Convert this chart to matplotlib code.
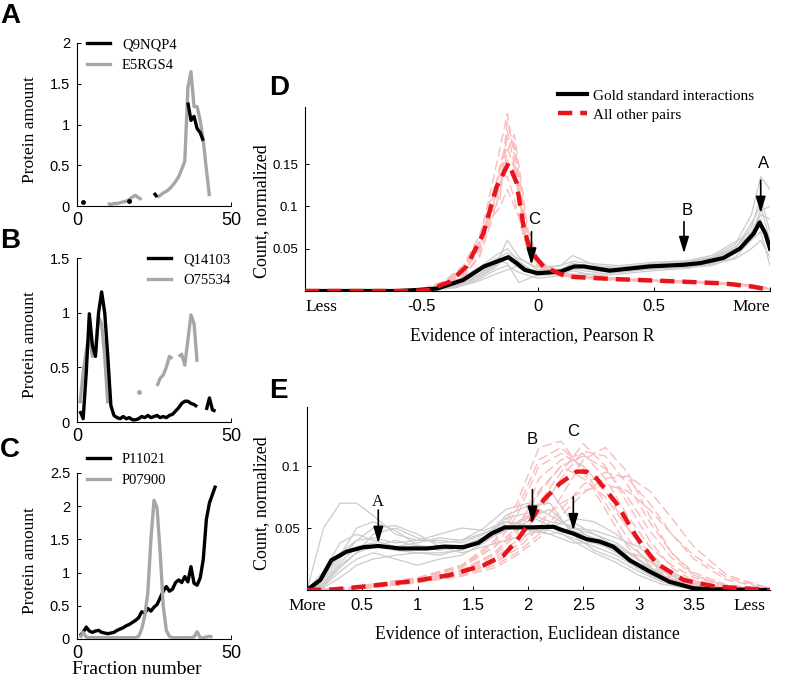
import numpy as np
import matplotlib.pyplot as plt
from matplotlib.lines import Line2D

plt.rcParams['font.family'] = 'Liberation Sans'
SERIF = 'Liberation Serif'
nan = np.nan

# ---------------- data: panels A-C (protein elution profiles, fractions 1..45)
fractions = list(range(1, 46))

a_q9nqp4 = [nan, 0.05, nan, nan, nan, nan, nan, nan, nan, nan,
            nan, nan, nan, nan, nan, nan, 0.065, nan, nan, nan,
            nan, nan, nan, nan, 0.16, 0.11, nan, nan, nan, nan,
            nan, nan, nan, nan, nan, 1.27, 1.05, 1.1, 0.95, 0.9,
            0.8, nan, nan, nan, nan]
a_e5rgs4 = [nan, nan, nan, nan, nan, nan, nan, nan, nan, 0.03,
            0.02, 0.03, 0.03, 0.04, 0.05, 0.06, 0.08, 0.11, 0.13, 0.1,
            0.08, nan, nan, nan, nan, 0.11, 0.13, 0.16, 0.18, 0.21,
            0.25, 0.3, 0.36, 0.45, 0.55, 1.45, 1.65, 1.22, 1.22, 1.05,
            0.8, 0.45, 0.12, nan, nan]

b_q14103 = [0.1, 0.03, 0.45, 0.99, 0.7, 0.6, 1.0, 1.19, 1.0, 0.6,
            0.15, 0.06, 0.04, 0.03, 0.05, 0.03, 0.04, 0.02, 0.02, 0.03,
            0.05, 0.04, 0.06, 0.04, 0.05, 0.06, 0.04, 0.05, 0.04, 0.06,
            0.07, 0.1, 0.13, 0.17, 0.19, 0.19, 0.17, 0.16, 0.14, nan,
            nan, 0.11, 0.22, 0.11, 0.1]
b_o75534 = [0.17, 0.45, 0.65, 0.8, 0.6, 0.65, 0.96, 0.9, 0.6, 0.17,
            nan, nan, nan, nan, nan, nan, nan, nan, nan, 0.27,
            nan, nan, nan, nan, nan, 0.33, 0.4, 0.43, 0.5, 0.6,
            0.58, nan, 0.6, 0.62, 0.52, 0.75, 0.98, 0.9, 0.55, nan,
            nan, nan, nan, nan, nan]

c_p11021 = [0.05, 0.1, 0.18, 0.12, 0.1, 0.12, 0.13, 0.1, 0.09, 0.08,
            0.09, 0.1, 0.13, 0.15, 0.17, 0.2, 0.22, 0.25, 0.28, 0.32,
            0.41, 0.39, 0.46, 0.42, 0.48, 0.52, 0.62, 0.72, 0.79, 0.72,
            0.75, 0.85, 0.89, 0.85, 0.94, 0.86, 1.09, 0.84, 0.81, 0.92,
            1.2, 1.8, 2.05, 2.18, 2.31]
c_p07900 = [0.02, 0.1, 0.03, 0.02, 0.02, 0.02, 0.02, 0.02, 0.02, 0.02,
            0.02, 0.02, 0.02, 0.02, 0.02, 0.02, 0.02, 0.02, 0.02, 0.04,
            0.15, 0.35, 0.7, 1.5, 2.09, 1.97, 1.3, 0.5, 0.13, 0.04,
            0.02, 0.02, 0.02, 0.02, 0.02, 0.02, 0.02, 0.03, 0.11, 0.02,
            0.02, 0.03, 0.04, 0.03, nan]

# ---------------- data: panel D (Pearson R)
d_gold_x = [-1, -0.6, -0.5, -0.43, -0.32, -0.23, -0.125, -0.09, -0.055, 0.0, 0.1,
            0.157, 0.2, 0.31, 0.48, 0.63, 0.7, 0.8, 0.87, 0.93, 0.955, 0.98, 1.0]
d_gold_y = [0, 0, 0.0015, 0.003, 0.013, 0.029, 0.04, 0.033, 0.025, 0.021, 0.023,
            0.029, 0.029, 0.024, 0.029, 0.031, 0.033, 0.039, 0.05, 0.068, 0.081, 0.068, 0.05]
d_other_x = [-1, -0.55, -0.47, -0.376, -0.305, -0.233, -0.176, -0.125, -0.09, -0.06,
             -0.032, 0.025, 0.125, 0.34, 0.627, 0.8, 0.93, 1.0]
d_other_y = [0, 0, 0.001, 0.011, 0.029, 0.068, 0.123, 0.151, 0.128, 0.076,
             0.048, 0.029, 0.017, 0.014, 0.011, 0.009, 0.005, 0.001]

d_rep_gold_x = [-0.6, -0.45, -0.35, -0.25, -0.18, -0.13, -0.08, 0.0, 0.1, 0.15,
                0.25, 0.35, 0.5, 0.65, 0.75, 0.85, 0.92, 0.96, 1.0]
d_rep_gold = [
    [0, 0.002, 0.006, 0.018, 0.03, 0.06, 0.04, 0.025, 0.03, 0.042, 0.03, 0.028, 0.032, 0.035, 0.04, 0.055, 0.09, 0.135, 0.12],
    [0, 0.004, 0.012, 0.028, 0.042, 0.05, 0.035, 0.02, 0.022, 0.03, 0.028, 0.027, 0.03, 0.03, 0.038, 0.05, 0.08, 0.1, 0.06],
    [0, 0.002, 0.005, 0.014, 0.025, 0.03, 0.022, 0.015, 0.018, 0.02, 0.02, 0.022, 0.026, 0.028, 0.03, 0.04, 0.06, 0.07, 0.03],
    [0, 0.003, 0.01, 0.025, 0.038, 0.045, 0.038, 0.028, 0.03, 0.035, 0.032, 0.03, 0.034, 0.036, 0.042, 0.058, 0.07, 0.09, 0.085],
    [0, 0.001, 0.004, 0.012, 0.02, 0.025, 0.03, 0.018, 0.02, 0.024, 0.018, 0.02, 0.024, 0.027, 0.032, 0.038, 0.05, 0.06, 0.04],
    [0, 0.003, 0.008, 0.02, 0.032, 0.038, 0.027, 0.024, 0.026, 0.03, 0.024, 0.023, 0.028, 0.033, 0.036, 0.05, 0.075, 0.11, 0.07],
    [0, 0.002, 0.007, 0.02, 0.036, 0.033, 0.01, 0.019, 0.02, 0.026, 0.022, 0.025, 0.031, 0.029, 0.033, 0.045, 0.063, 0.085, 0.05],
    [0, 0.002, 0.006, 0.016, 0.028, 0.042, 0.032, 0.022, 0.025, 0.033, 0.027, 0.026, 0.033, 0.034, 0.039, 0.052, 0.068, 0.095, 0.1],
]
d_rep_other_x = [-0.5, -0.4, -0.32, -0.25, -0.2, -0.16, -0.13, -0.1, -0.07, -0.04,
                 0.0, 0.05, 0.15, 0.3, 0.5, 0.7, 0.85, 0.95, 1.0]
d_rep_other = [
    [0.001, 0.01, 0.025, 0.06, 0.12, 0.17, 0.21, 0.16, 0.1, 0.055, 0.035, 0.024, 0.018, 0.015, 0.013, 0.011, 0.009, 0.005, 0.002],
    [0.001, 0.008, 0.02, 0.05, 0.1, 0.15, 0.18, 0.175, 0.12, 0.06, 0.038, 0.025, 0.018, 0.014, 0.012, 0.01, 0.008, 0.006, 0.003],
    [0.002, 0.012, 0.03, 0.065, 0.11, 0.14, 0.135, 0.11, 0.075, 0.045, 0.03, 0.022, 0.016, 0.013, 0.011, 0.009, 0.007, 0.004, 0.001],
    [0.001, 0.006, 0.016, 0.04, 0.08, 0.12, 0.165, 0.185, 0.13, 0.07, 0.04, 0.026, 0.019, 0.015, 0.012, 0.011, 0.009, 0.005, 0.002],
    [0.001, 0.009, 0.022, 0.048, 0.085, 0.1, 0.12, 0.1, 0.08, 0.05, 0.032, 0.021, 0.016, 0.014, 0.012, 0.01, 0.008, 0.005, 0.002],
    [0.001, 0.007, 0.018, 0.042, 0.095, 0.13, 0.155, 0.14, 0.105, 0.058, 0.036, 0.024, 0.017, 0.014, 0.012, 0.01, 0.008, 0.004, 0.001],
    [0.002, 0.011, 0.028, 0.055, 0.09, 0.11, 0.19, 0.15, 0.09, 0.052, 0.034, 0.023, 0.017, 0.015, 0.013, 0.011, 0.009, 0.006, 0.003],
    [0.001, 0.009, 0.024, 0.052, 0.105, 0.145, 0.17, 0.145, 0.095, 0.048, 0.031, 0.022, 0.017, 0.014, 0.012, 0.01, 0.008, 0.005, 0.002],
    [0.002, 0.01, 0.027, 0.058, 0.092, 0.125, 0.2, 0.168, 0.11, 0.062, 0.04, 0.027, 0.019, 0.016, 0.013, 0.011, 0.009, 0.006, 0.002],
]

# ---------------- data: panel E (Euclidean distance)
e_gold_x = [0, 0.12, 0.22, 0.36, 0.51, 0.645, 0.84, 1.085, 1.24, 1.415, 1.55, 1.67, 1.79,
            2.02, 2.23, 2.32, 2.41, 2.53, 2.65, 2.77, 2.92, 3.1, 3.28, 3.5, 3.7, 4.19]
e_gold_y = [0, 0.008, 0.024, 0.031, 0.0345, 0.0355, 0.0335, 0.0335, 0.035, 0.0345, 0.038, 0.0455, 0.0505,
            0.0505, 0.051, 0.048, 0.0455, 0.041, 0.039, 0.035, 0.024, 0.015, 0.0067, 0.0013, 0.0005, 0]
e_other_x = [0, 0.24, 0.54, 0.99, 1.29, 1.6, 1.78, 1.9, 2.02, 2.14, 2.29, 2.44, 2.53,
             2.62, 2.8, 2.98, 3.16, 3.41, 3.7, 4.19]
e_other_y = [0, 0.0005, 0.003, 0.0075, 0.012, 0.02, 0.028, 0.04, 0.055, 0.0725, 0.086, 0.0955, 0.0955,
             0.09, 0.07, 0.043, 0.0215, 0.008, 0.0027, 0]

e_rep_gold_x = [0, 0.15, 0.3, 0.45, 0.6, 0.8, 1.0, 1.2, 1.4, 1.6, 1.8, 2.0, 2.2, 2.4,
                2.6, 2.8, 3.0, 3.2, 3.4, 3.7, 4.2]
e_rep_gold = [
    [0, 0.05, 0.07, 0.07, 0.06, 0.045, 0.04, 0.04, 0.038, 0.045, 0.055, 0.052, 0.048, 0.042, 0.035, 0.028, 0.017, 0.008, 0.003, 0.001, 0],
    [0, 0.005, 0.02, 0.03, 0.045, 0.05, 0.042, 0.038, 0.04, 0.05, 0.065, 0.07, 0.06, 0.05, 0.045, 0.038, 0.025, 0.013, 0.005, 0.001, 0],
    [0, 0.002, 0.01, 0.02, 0.025, 0.028, 0.03, 0.03, 0.032, 0.04, 0.048, 0.055, 0.08, 0.055, 0.045, 0.035, 0.02, 0.01, 0.004, 0.001, 0],
    [0, 0.012, 0.03, 0.04, 0.05, 0.052, 0.045, 0.035, 0.03, 0.035, 0.04, 0.045, 0.05, 0.058, 0.055, 0.045, 0.03, 0.016, 0.007, 0.002, 0],
    [0, 0.003, 0.015, 0.025, 0.03, 0.025, 0.02, 0.025, 0.028, 0.038, 0.05, 0.06, 0.052, 0.04, 0.03, 0.022, 0.012, 0.005, 0.002, 0, 0],
    [0, 0.008, 0.025, 0.04, 0.042, 0.038, 0.04, 0.045, 0.05, 0.048, 0.055, 0.048, 0.045, 0.05, 0.048, 0.042, 0.035, 0.02, 0.01, 0.003, 0],
    [0, 0.004, 0.018, 0.03, 0.035, 0.04, 0.035, 0.032, 0.036, 0.042, 0.06, 0.068, 0.07, 0.045, 0.032, 0.025, 0.015, 0.007, 0.002, 0, 0],
    [0, 0.015, 0.038, 0.045, 0.04, 0.035, 0.038, 0.042, 0.04, 0.046, 0.052, 0.05, 0.045, 0.038, 0.038, 0.032, 0.028, 0.018, 0.008, 0.002, 0],
    [0, 0.006, 0.022, 0.035, 0.038, 0.032, 0.03, 0.028, 0.033, 0.04, 0.058, 0.062, 0.055, 0.052, 0.04, 0.03, 0.02, 0.01, 0.004, 0.001, 0],
    [0, 0.01, 0.028, 0.05, 0.055, 0.048, 0.036, 0.034, 0.035, 0.043, 0.05, 0.058, 0.065, 0.048, 0.042, 0.036, 0.024, 0.012, 0.006, 0.001, 0],
]
e_rep_other_x = [0, 0.3, 0.6, 1.0, 1.4, 1.7, 1.9, 2.1, 2.3, 2.5, 2.7, 2.9, 3.1, 3.3, 3.5, 3.8, 4.2]
e_rep_other = [
    [0, 0.001, 0.004, 0.009, 0.018, 0.035, 0.06, 0.1, 0.11, 0.1, 0.08, 0.05, 0.025, 0.01, 0.004, 0.001, 0],
    [0, 0.001, 0.003, 0.007, 0.013, 0.022, 0.033, 0.05, 0.075, 0.105, 0.115, 0.095, 0.06, 0.03, 0.012, 0.003, 0],
    [0, 0, 0.002, 0.006, 0.012, 0.02, 0.03, 0.045, 0.065, 0.085, 0.095, 0.09, 0.07, 0.045, 0.025, 0.008, 0.001],
    [0, 0.001, 0.005, 0.01, 0.02, 0.04, 0.07, 0.115, 0.12, 0.095, 0.065, 0.035, 0.015, 0.006, 0.002, 0.0005, 0],
    [0, 0.001, 0.004, 0.008, 0.016, 0.03, 0.048, 0.07, 0.095, 0.118, 0.1, 0.07, 0.04, 0.018, 0.007, 0.002, 0],
    [0, 0.0005, 0.003, 0.007, 0.014, 0.024, 0.036, 0.055, 0.07, 0.08, 0.085, 0.08, 0.065, 0.045, 0.028, 0.01, 0.001],
    [0, 0.001, 0.004, 0.009, 0.02, 0.035, 0.05, 0.08, 0.1, 0.09, 0.075, 0.05, 0.03, 0.014, 0.006, 0.002, 0],
    [0, 0.0008, 0.003, 0.008, 0.016, 0.028, 0.045, 0.09, 0.105, 0.11, 0.09, 0.06, 0.035, 0.02, 0.01, 0.003, 0],
    [0, 0.001, 0.003, 0.008, 0.015, 0.026, 0.04, 0.062, 0.09, 0.112, 0.108, 0.085, 0.055, 0.03, 0.014, 0.004, 0],
    [0, 0.0005, 0.002, 0.006, 0.011, 0.018, 0.028, 0.042, 0.06, 0.078, 0.09, 0.092, 0.08, 0.058, 0.035, 0.012, 0.001],
    [0, 0.001, 0.004, 0.009, 0.019, 0.038, 0.065, 0.105, 0.115, 0.098, 0.07, 0.042, 0.02, 0.009, 0.003, 0.001, 0],
    [0, 0.001, 0.003, 0.008, 0.016, 0.03, 0.05, 0.078, 0.1, 0.108, 0.098, 0.075, 0.048, 0.026, 0.012, 0.003, 0],
]

# arrows: (label, x, tail y, tip y, text y)
d_arrows = [('C', -0.026, 0.07, 0.031, 0.084), ('B', 0.63, 0.082, 0.0445, 0.095),
            ('A', 0.96, 0.131, 0.092, 0.151)]
e_arrows = [('A', 0.645, 0.0645, 0.0377, 0.071), ('B', 2.04, 0.081, 0.054, 0.121),
            ('C', 2.41, 0.075, 0.048, 0.1277)]

# ---------------- layout
W, H = 786, 677
fig = plt.figure(figsize=(W / 100, H / 100), dpi=100)


def px_axes(left, right, bottom, top):
    return fig.add_axes([left / W, 1 - bottom / H, (right - left) / W, (bottom - top) / H])


def style(ax, xfs, yfs, xpad=6):
    for s in ('top', 'right'):
        ax.spines[s].set_visible(False)
    for s in ('left', 'bottom'):
        ax.spines[s].set_linewidth(0.8)
    ax.tick_params(direction='in', length=3, width=0.7, pad=5)
    ax.tick_params(axis='x', labelsize=xfs, pad=xpad)
    ax.tick_params(axis='y', labelsize=yfs)


def profile(ax, y, color, lw=2.4, zorder=2):
    y = np.array(y, dtype=float)
    x = np.array(fractions, dtype=float)
    ax.plot(x, y, color=color, lw=lw, solid_capstyle='butt', zorder=zorder)
    ok = ~np.isnan(y)
    prev = np.r_[False, ok[:-1]]
    nxt = np.r_[ok[1:], False]
    iso = ok & ~prev & ~nxt
    ax.plot(x[iso], y[iso], 'o', color=color, ms=2.5, zorder=zorder)


GRAY = '#a6a6a6'
THIN_GRAY = '#cbcbcb'
PINK = '#f8bcbc'
RED = '#e8141b'

panels = [
    (43, 206, 2.0, [0, 0.5, 1, 1.5, 2], a_q9nqp4, a_e5rgs4, ['Q9NQP4', 'E5RGS4'], (87, 38)),
    (258, 422, 1.5, [0, 0.5, 1, 1.5], b_q14103, b_o75534, ['Q14103', 'O75534'], (148, 253)),
    (473, 639, 2.5, [0, 0.5, 1, 1.5, 2, 2.5], c_p11021, c_p07900, ['P11021', 'P07900'], (87, 453)),
]
for i, (top, bottom, ymax, yt, blk, gry, names, leg) in enumerate(panels):
    ax = px_axes(77, 231, bottom, top)
    if i == 2:
        profile(ax, blk, 'k', zorder=2)
        profile(ax, gry, GRAY, zorder=3)
    else:
        profile(ax, gry, GRAY, zorder=2)
        profile(ax, blk, 'k', zorder=3)
    ax.set_xlim(0, 50)
    ax.set_ylim(0, ymax)
    ax.set_xticks([0, 50])
    ax.set_yticks(yt)
    ax.set_yticklabels(['%g' % v for v in yt])
    style(ax, 13, 10.5, xpad=4)
    ax.set_ylabel('Protein amount', family=SERIF, fontsize=12.5, va='center')
    ax.yaxis.set_label_coords((30 - 77) / 154, 0.47)
    handles = [Line2D([], [], color='k', lw=2.4), Line2D([], [], color=GRAY, lw=2.4)]
    ax.legend(handles, names, loc='upper left', frameon=False,
              bbox_to_anchor=(leg[0] / W, 1 - leg[1] / H), bbox_transform=fig.transFigure,
              borderpad=0, borderaxespad=0, handlelength=1.6, handletextpad=0.8,
              labelspacing=0.5, prop={'family': SERIF, 'size': 10.5})
    if i == 2:
        ax.set_xlabel('Fraction number', family=SERIF, fontsize=14, va='center')
        ax.xaxis.set_label_coords((137 - 77) / 154, -(669 - 639) / 166)

# panel D
ax_d = px_axes(305, 770, 291, 107)
for r in d_rep_gold:
    ax_d.plot(d_rep_gold_x, r, color=THIN_GRAY, lw=0.9, zorder=1)
for r in d_rep_other:
    ax_d.plot(d_rep_other_x, r, color=PINK, lw=1.0, ls=(0, (7, 3)), zorder=1)
ax_d.plot(d_gold_x, d_gold_y, color='k', lw=3, zorder=3, label='Gold standard interactions')
ax_d.plot(d_other_x, d_other_y, color=RED, lw=3.2, ls=(0, (3.2, 1.8)), zorder=4,
          label='All other pairs')
ax_d.set_xlim(-1, 1)
ax_d.set_ylim(0, 0.2175)
ax_d.set_xticks([-1, -0.5, 0, 0.5, 1])
ax_d.set_xticklabels(['Less', '-0.5', '0', '0.5', 'More'])
ax_d.set_yticks([0.05, 0.1, 0.15])
ax_d.set_yticklabels(['0.05', '0.1', '0.15'])
style(ax_d, 12, 9.5)
tl = ax_d.get_xticklabels()
for t in (tl[0], tl[-1]):
    t.set_family(SERIF)
    t.set_fontsize(12.5)
tl[0].set_ha('left')
tl[-1].set_ha('right')
ax_d.set_xlabel('Evidence of interaction, Pearson R', family=SERIF, fontsize=12.7, va='center')
ax_d.xaxis.set_label_coords((532 - 305) / 465, -(337 - 291) / 184)
ax_d.set_ylabel('Count, normalized', family=SERIF, fontsize=13, va='center')
ax_d.yaxis.set_label_coords((262 - 305) / 465, (291 - 211) / 184)
ax_d.legend(loc='upper left', frameon=False, bbox_to_anchor=(558 / W, 1 - 89 / H),
            bbox_transform=fig.transFigure, borderpad=0, borderaxespad=0,
            handlelength=1.9, handletextpad=0.4, labelspacing=0.35,
            prop={'family': SERIF, 'size': 11})
for lab, x, y0, y1, yt in d_arrows:
    ax_d.annotate('', xy=(x, y1), xytext=(x, y0),
                  arrowprops=dict(arrowstyle='-|>,head_length=1.0,head_width=0.3',
                                  color='k', lw=1.2, shrinkA=0, shrinkB=0), zorder=6)
    ax_d.text(x + 0.012, yt, lab, ha='center', va='center', fontsize=12, zorder=6)

# panel E
ax_e = px_axes(307, 770, 590, 407)
for r in e_rep_gold:
    ax_e.plot(e_rep_gold_x, r, color=THIN_GRAY, lw=0.9, zorder=1)
for r in e_rep_other:
    ax_e.plot(e_rep_other_x, r, color=PINK, lw=1.0, ls=(0, (7, 3)), zorder=1)
ax_e.plot(e_gold_x, e_gold_y, color='k', lw=3, zorder=3)
ax_e.plot(e_other_x, e_other_y, color=RED, lw=3.2, ls=(0, (3.2, 1.8)), zorder=4)
ax_e.set_xlim(0, 4.19)
ax_e.set_ylim(0, 0.1476)
ax_e.set_xticks([0, 0.5, 1, 1.5, 2, 2.5, 3, 3.5, 4])
ax_e.set_xticklabels(['More', '0.5', '1', '1.5', '2', '2.5', '3', '3.5', 'Less'])
ax_e.set_yticks([0.05, 0.1])
ax_e.set_yticklabels(['0.05', '0.1'])
style(ax_e, 12, 9.5)
tl = ax_e.get_xticklabels()
for t in (tl[0], tl[-1]):
    t.set_family(SERIF)
    t.set_fontsize(12.5)
ax_e.set_xlabel('Evidence of interaction, Euclidean distance', family=SERIF, fontsize=12.7,
                va='center')
ax_e.xaxis.set_label_coords((527 - 307) / 463, -(635 - 590) / 183)
ax_e.set_ylabel('Count, normalized', family=SERIF, fontsize=13, va='center')
ax_e.yaxis.set_label_coords((262 - 307) / 463, (590 - 503) / 183)
for lab, x, y0, y1, yt in e_arrows:
    ax_e.annotate('', xy=(x, y1), xytext=(x, y0),
                  arrowprops=dict(arrowstyle='-|>,head_length=1.0,head_width=0.3',
                                  color='k', lw=1.2, shrinkA=0, shrinkB=0), zorder=6)
    ax_e.text(x, yt, lab, ha='center', va='center', fontsize=12, zorder=6,
              family=SERIF if lab == 'A' else None)

# panel letters
for lab, x, y in [('A', 0, 23), ('B', 0, 248), ('C', 0, 457), ('D', 269, 95), ('E', 269, 398)]:
    fig.text(x / W, 1 - y / H, lab, fontsize=20, fontweight='bold', ha='left', va='baseline')

fig.savefig('out.png', dpi=100)
